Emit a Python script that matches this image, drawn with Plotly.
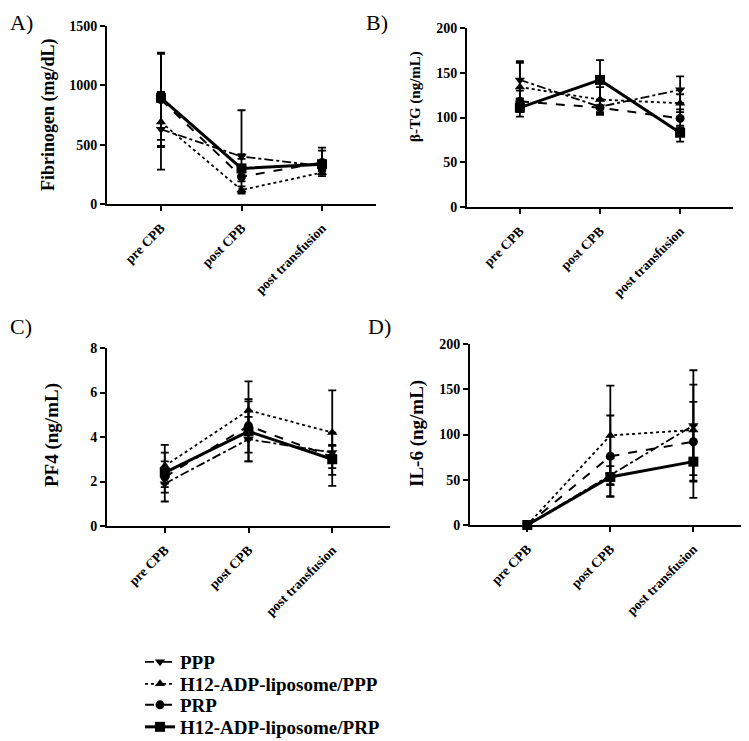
import plotly.graph_objects as go

categories = ["pre CPB", "post CPB", "post transfusion"]
series_names = ["PPP", "H12-ADP-liposome/PPP", "PRP", "H12-ADP-liposome/PRP"]

# Panel A: Fibrinogen (mg/dL) -- order: PPP, H12/PPP, PRP, H12/PRP
fib_mean = [[630, 400, 320], [690, 118, 265], [880, 230, 350], [895, 300, 335]]
fib_up = [[305, 20, 40], [255, 30, 30], [385, 40, 100], [380, 490, 140]]
fib_dn = [[150, 20, 40], [400, 30, 30], [390, 40, 100], [355, 200, 60]]

# Panel B: beta-TG (ng/mL)
btg_mean = [[142, 112, 131], [134, 120, 116], [118, 111, 99], [111, 142, 83]]
btg_up = [[21, 8, 15], [27, 14, 10], [12, 8, 10], [10, 22, 8]]
btg_dn = [[21, 8, 15], [27, 14, 10], [12, 8, 10], [10, 22, 10]]

# Panel C: PF4 (ng/mL)
pf4_mean = [[1.9, 3.9, 3.3], [2.7, 5.2, 4.2], [2.2, 4.5, 3.1], [2.4, 4.25, 3.0]]
pf4_err = [[0.4, 1.0, 0.35], [0.95, 1.3, 1.9], [1.1, 1.2, 0.5], [0.5, 1.35, 1.2]]

# Panel D: IL-6 (ng/mL)
il6_mean = [[0, 55, 110], [0, 99, 105], [0, 76, 92], [0, 53, 70]]
il6_err = [[0, 10, 61], [0, 55, 50], [0, 45, 44], [0, 21, 40]]

FONT = "Liberation Serif, Times New Roman, serif"
PAGE_W, PAGE_H = 749, 741
OFF = 8  # default page body margin
W, H = PAGE_W - OFF, PAGE_H - OFF

dashes = ["dashdot", "dot", "dash", "solid"]
widths = [1.8, 1.8, 2, 3]
symbols = ["triangle-down", "triangle-up", "circle", "square"]
legend_ids = ["legend", "legend2", "legend3", "legend4"]

fig = go.Figure()

panels = [
    ("x", "y", fib_mean, fib_up, fib_dn),
    ("x2", "y2", btg_mean, btg_up, btg_dn),
    ("x3", "y3", pf4_mean, pf4_err, pf4_err),
    ("x4", "y4", il6_mean, il6_err, il6_err),
]

for p, (xa, ya, means, ups, dns) in enumerate(panels):
    for i, name in enumerate(series_names):
        fig.add_trace(go.Scatter(
            x=categories, y=means[i], xaxis=xa, yaxis=ya,
            name=name, legendgroup=name, showlegend=(p == 0), legend=legend_ids[i],
            mode="lines+markers",
            line=dict(color="black", width=widths[i], dash=dashes[i]),
            marker=dict(symbol=symbols[i], size=9 if i < 3 else 10, color="black"),
            error_y=dict(type="data", symmetric=False, array=ups[i], arrayminus=dns[i],
                         color="black", thickness=1.8, width=4),
            cliponaxis=False,
        ))

def fx(px):
    return max(0.0, min(1.0, (px - OFF) / W))

def fy(py):
    return max(0.0, min(1.0, 1 - (py - OFF) / H))

axis_common = dict(showline=True, linecolor="black", linewidth=2, ticks="outside",
                   ticklen=5, tickwidth=2, tickcolor="black", showgrid=False, zeroline=False,
                   automargin=False)

xcfg = [((107, 376), (-0.67, 2.67)), ((467, 733), (-0.66, 2.66)),
        ((107, 390), (-0.69, 2.69)), ((470, 749), (-0.69, 2.67))]
ycfg = [((26, 204), (0, 1500), 500), ((28, 207), (0, 200), 50),
        ((348, 526), (0, 8), 2), ((344, 525), (0, 200), 50)]

layout = {}
for k in range(4):
    suf = "" if k == 0 else str(k + 1)
    (xa, xb), xr = xcfg[k]
    (yt, yb), yr, dt = ycfg[k]
    layout["xaxis" + suf] = dict(axis_common, domain=[fx(xa), fx(xb)], range=list(xr),
                                 type="category", anchor="y" + suf, tickangle=-45,
                                 ticklabelstandoff=4,
                                 tickfont=dict(family=FONT, size=13.5, color="black", weight="bold"))
    layout["yaxis" + suf] = dict(axis_common, domain=[fy(yb), fy(yt)], range=list(yr),
                                 dtick=dt, anchor="x" + suf,
                                 tickfont=dict(family=FONT, size=14, color="black", weight="bold"))

# separate single-entry legends to place each row exactly
legend_rows = [662, 684, 705, 727]
for lid, row in zip(legend_ids, legend_rows):
    layout[lid] = dict(x=fx(140), y=fy(row), xanchor="left", yanchor="middle",
                       font=dict(family=FONT, size=19, color="black", weight="bold"),
                       itemwidth=30, bgcolor="rgba(0,0,0,0)")

fig.update_layout(**layout)

titles = [("Fibrinogen (mg/dL)", 48, 115, 18), ("β-TG (ng/mL)", 415, 97, 15),
          ("PF4 (ng/mL)", 52, 435, 19), ("IL-6 (ng/mL)", 417, 434, 19)]
ann = []
for t, cx, cy, fs in titles:
    ann.append(dict(text="<b>%s</b>" % t, x=fx(cx), y=fy(cy), xref="paper", yref="paper",
                    showarrow=False, textangle=-90, xanchor="center", yanchor="middle",
                    font=dict(family=FONT, size=fs, color="black")))
letters = [("A)", 8, 8), ("B)", 364, 8), ("C)", 8, 312), ("D)", 366, 312)]
for t, lx, ly in letters:
    ann.append(dict(text=t, x=fx(lx), y=fy(ly), xref="paper", yref="paper",
                    showarrow=False, xanchor="left", yanchor="top",
                    font=dict(family=FONT, size=22, color="black")))

fig.update_layout(
    template="none",
    width=W, height=H, margin=dict(l=0, r=0, t=0, b=0, pad=0, autoexpand=False),
    paper_bgcolor="white", plot_bgcolor="white",
    annotations=ann,
    showlegend=True,
)

fig.write_html("out.html")
